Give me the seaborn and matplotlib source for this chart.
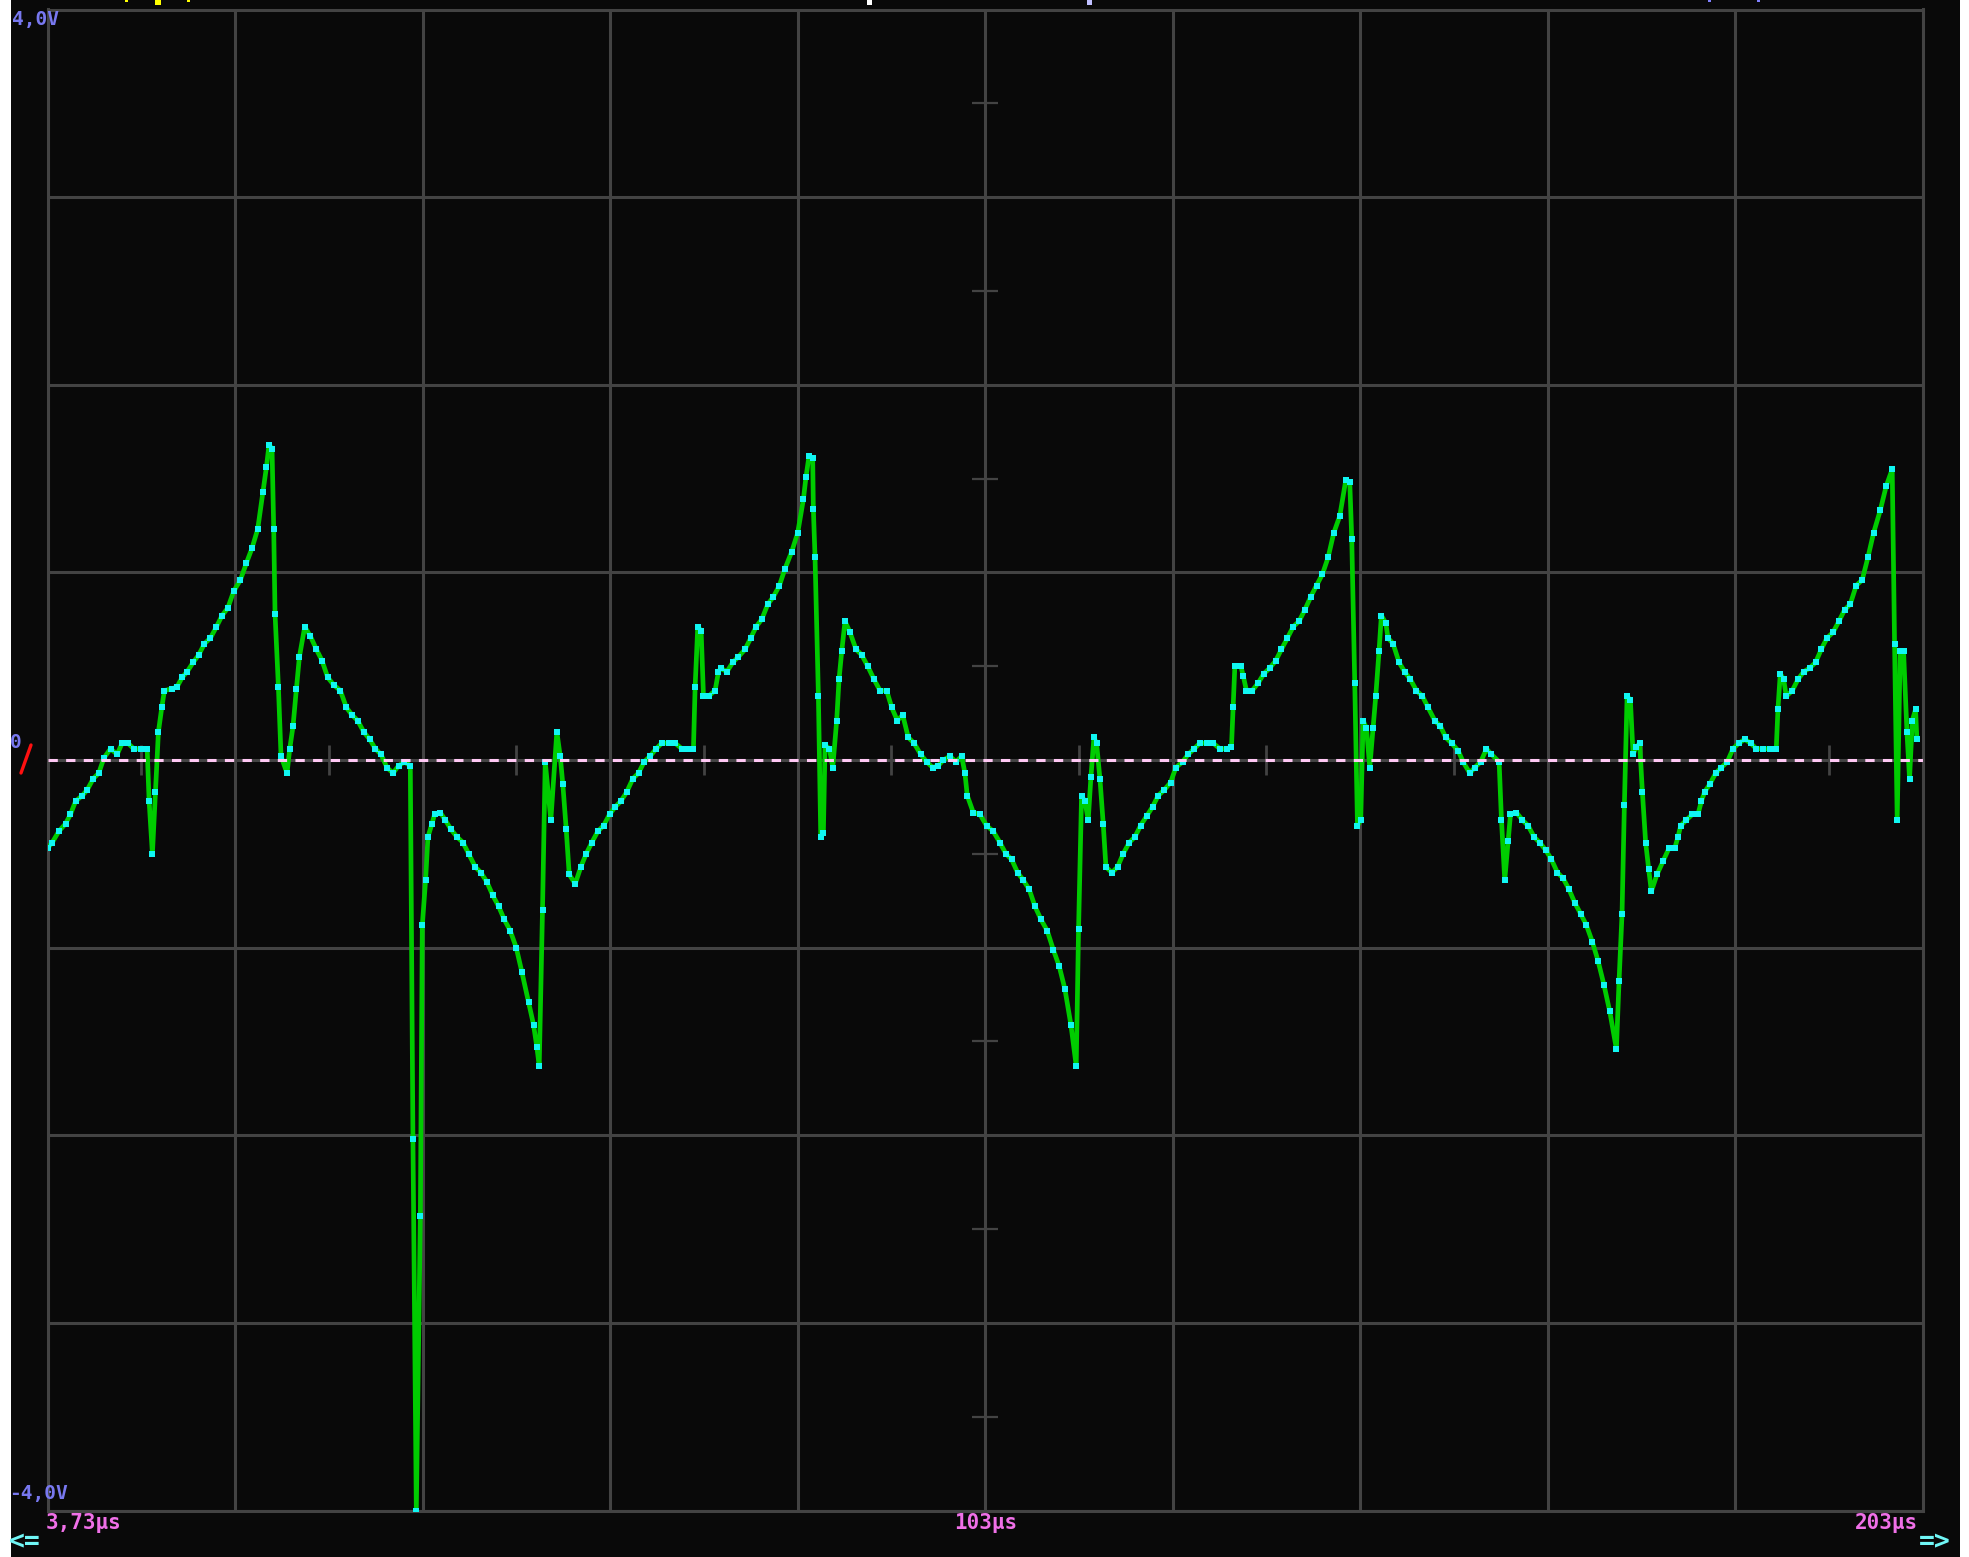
import matplotlib
matplotlib.use("Agg")
import matplotlib.pyplot as plt
from matplotlib.patches import Rectangle
from matplotlib.lines import Line2D
import numpy as np
import pandas as pd
import seaborn as sns

# ---- captured trace, channel 1 (time in microseconds, level in volts) ----
time_a = [3.73, 4.23, 4.94, 5.65, 6.18, 6.72, 7.43, 7.96, 8.60, 9.20,
          9.74, 10.45, 11.16, 11.69, 12.30, 12.93, 13.65, 14.36, 14.57, 14.92,
          15.24, 15.56, 15.92, 16.20, 17.02, 17.55, 18.09, 18.62, 19.26, 19.86,
          20.47, 21.11, 21.75, 22.35, 22.96, 23.60, 24.31, 24.95, 25.55, 26.15,
          26.72, 27.08, 27.36, 27.68, 27.86, 28.00, 28.36, 28.64, 29.28, 29.57,
          29.92, 30.28, 30.60, 31.17, 31.77, 32.41, 33.01, 33.62, 34.26, 34.97,
          35.61, 36.21, 36.82, 37.46, 38.10, 38.70, 39.30, 39.94, 40.58, 41.19,
          41.79, 42.43, 42.71, 43.07, 43.50, 43.71, 44.06, 44.31, 44.74, 45.02,
          45.63, 46.16, 46.77, 47.41, 48.05, 48.65, 49.36, 49.96, 50.60, 51.21,
          51.85, 52.45, 53.09]
volts_a = [-0.47, -0.44, -0.38, -0.34, -0.29, -0.22, -0.19, -0.16, -0.10, -0.07,
           0.01, 0.06, 0.03, 0.09, 0.09, 0.06, 0.06, 0.06, -0.22, -0.50,
           -0.17, 0.15, 0.28, 0.37, 0.38, 0.39, 0.44, 0.47, 0.52, 0.56,
           0.62, 0.65, 0.71, 0.77, 0.81, 0.90, 0.96, 1.05, 1.13, 1.23,
           1.43, 1.56, 1.68, 1.66, 1.23, 0.78, 0.39, 0.02, -0.07, 0.06,
           0.18, 0.38, 0.55, 0.71, 0.66, 0.59, 0.53, 0.44, 0.40, 0.37,
           0.28, 0.24, 0.21, 0.15, 0.11, 0.06, 0.03, -0.04, -0.07, -0.03,
           -0.01, -0.03, -2.02, -4.00, -2.43, -0.88, -0.64, -0.41, -0.34, -0.29,
           -0.28, -0.32, -0.37, -0.41, -0.44, -0.50, -0.57, -0.60, -0.65, -0.72,
           -0.78, -0.85, -0.91]

time_b = [53.73, 54.33, 55.04, 55.57, 55.93, 56.18, 56.53, 56.82, 57.42, 58.06,
          58.42, 58.70, 59.06, 59.38, 60.02, 60.62, 61.19, 61.79, 62.43, 63.04,
          63.68, 64.28, 64.88, 65.52, 66.16, 66.77, 67.37, 68.01, 68.65, 69.26,
          69.97, 70.68, 71.39, 72.10, 72.63, 72.81, 73.09, 73.45, 73.70, 74.24,
          74.94, 75.30, 75.55, 76.19, 76.82, 77.43, 78.14, 78.74, 79.31, 79.92,
          80.56, 81.16, 81.80, 82.40, 83.11, 83.75, 84.36, 84.64, 84.96, 85.35,
          85.42, 85.60, 85.96, 86.21, 86.49, 86.67, 87.13, 87.49, 87.91, 88.16,
          88.45, 88.80, 89.33, 89.97, 90.58, 91.22, 91.89, 92.53, 93.24, 93.78,
          94.38, 94.95, 95.55, 96.16, 96.87, 97.51, 98.15, 98.75, 99.29, 100.00,
          100.63]
volts_b = [-1.00, -1.13, -1.29, -1.41, -1.53, -1.63, -0.80, -0.01, -0.32, 0.15,
           0.02, -0.13, -0.37, -0.61, -0.66, -0.57, -0.50, -0.44, -0.38, -0.35,
           -0.29, -0.25, -0.22, -0.17, -0.10, -0.07, -0.01, 0.02, 0.06, 0.09,
           0.09, 0.09, 0.06, 0.06, 0.06, 0.39, 0.71, 0.69, 0.34, 0.34,
           0.37, 0.47, 0.49, 0.47, 0.52, 0.55, 0.59, 0.65, 0.71, 0.75,
           0.83, 0.87, 0.93, 1.02, 1.11, 1.21, 1.39, 1.51, 1.62, 1.61,
           1.34, 1.08, 0.34, -0.41, -0.39, 0.08, 0.06, -0.04, 0.21, 0.43,
           0.58, 0.74, 0.68, 0.59, 0.56, 0.50, 0.43, 0.37, 0.37, 0.28,
           0.21, 0.24, 0.12, 0.09, 0.03, -0.01, -0.04, -0.03, 0.00, 0.02,
           -0.01]

time_c = [101.24, 101.59, 101.84, 102.48, 103.19, 103.90, 104.61, 105.32, 105.96, 106.57,
          107.21, 107.81, 108.45, 109.06, 109.70, 110.37, 111.01, 111.65, 112.25, 112.89,
          113.46, 113.71, 114.03, 114.39, 114.74, 115.03, 115.35, 115.63, 115.99, 116.34,
          116.63, 117.26, 117.87, 118.47, 119.11, 119.72, 120.32, 120.96, 121.60, 122.20,
          122.84, 123.52, 124.09, 124.80, 125.40, 126.04, 126.65, 127.36, 128.07, 128.78,
          129.49, 130.02, 130.20, 130.38, 131.02, 131.27, 131.62, 132.23, 132.87, 133.47,
          134.11, 134.75, 135.35, 135.99, 136.60, 137.24, 137.84, 138.48, 139.09, 139.72,
          140.33, 140.93, 141.57, 142.21, 142.64, 142.85, 143.17, 143.46, 143.81, 144.06,
          144.42, 144.77, 145.12, 145.41, 145.76, 146.01, 146.48, 146.72, 147.26, 147.90,
          148.50, 149.10, 149.75, 150.39, 150.99]
volts_c = [0.02, -0.07, -0.19, -0.28, -0.29, -0.35, -0.38, -0.44, -0.50, -0.53,
           -0.60, -0.64, -0.69, -0.78, -0.85, -0.91, -1.01, -1.10, -1.22, -1.41,
           -1.63, -0.90, -0.19, -0.22, -0.32, -0.09, 0.12, 0.09, -0.10, -0.34,
           -0.57, -0.60, -0.57, -0.50, -0.44, -0.41, -0.35, -0.30, -0.25, -0.19,
           -0.16, -0.12, -0.04, -0.01, 0.03, 0.06, 0.09, 0.09, 0.09, 0.06,
           0.06, 0.07, 0.28, 0.50, 0.50, 0.45, 0.37, 0.37, 0.41, 0.46,
           0.49, 0.53, 0.59, 0.65, 0.71, 0.74, 0.80, 0.87, 0.93, 0.99,
           1.08, 1.21, 1.30, 1.49, 1.48, 1.18, 0.41, -0.35, -0.32, 0.21,
           0.17, -0.04, 0.17, 0.34, 0.58, 0.77, 0.73, 0.65, 0.62, 0.52,
           0.47, 0.43, 0.37, 0.34, 0.28]

time_d = [151.71, 152.31, 152.88, 153.49, 154.20, 154.73, 155.44, 155.97, 156.61, 157.22,
          157.75, 158.57, 158.82, 159.17, 159.53, 159.78, 160.42, 161.05, 161.66, 162.30,
          162.90, 163.54, 164.15, 164.79, 165.39, 166.03, 166.63, 167.27, 167.88, 168.52,
          169.12, 169.76, 170.37, 171.08, 171.36, 171.68, 171.93, 172.22, 172.57, 172.86,
          173.21, 173.56, 173.85, 174.20, 174.52, 174.81, 175.41, 176.05, 176.69, 177.30,
          177.65, 177.94, 178.54, 179.18, 179.78, 180.14, 180.49, 181.03, 181.67, 182.27,
          182.91, 183.51, 184.15, 184.76, 185.40, 186.00, 186.71, 187.42, 188.13, 188.31,
          188.56, 188.92, 189.20, 189.84, 190.45, 191.05, 191.69, 192.33, 192.93, 193.54,
          194.18, 194.82, 195.42, 196.02, 196.66, 197.30, 197.91, 198.51, 199.22, 199.86,
          200.50, 200.75, 201.03, 201.35, 201.71, 202.07, 202.35, 202.64, 202.99, 203.13]
volts_d = [0.21, 0.18, 0.12, 0.09, 0.05, -0.01, -0.07, -0.04, -0.01, 0.06,
           0.03, -0.01, -0.32, -0.64, -0.43, -0.29, -0.28, -0.32, -0.35, -0.41,
           -0.44, -0.48, -0.53, -0.60, -0.63, -0.69, -0.76, -0.82, -0.88, -0.97,
           -1.07, -1.20, -1.34, -1.54, -1.18, -0.82, -0.24, 0.34, 0.32, 0.03,
           0.07, 0.09, -0.17, -0.44, -0.58, -0.70, -0.61, -0.54, -0.47, -0.47,
           -0.41, -0.35, -0.32, -0.29, -0.29, -0.22, -0.17, -0.13, -0.07, -0.04,
           -0.01, 0.06, 0.09, 0.11, 0.09, 0.06, 0.06, 0.06, 0.06, 0.27,
           0.46, 0.43, 0.34, 0.37, 0.43, 0.47, 0.49, 0.52, 0.59, 0.65,
           0.68, 0.74, 0.80, 0.83, 0.93, 0.96, 1.08, 1.21, 1.33, 1.46,
           1.55, 0.62, -0.32, 0.58, 0.58, 0.15, -0.10, 0.21, 0.27, 0.11]

# ---- screen settings ----
t_start_us = 3.73
us_per_div = 20.0
n_xdiv = 10
v_per_div = 1.0
n_ydiv = 8
trigger_level_v = 0.0

y_top_label = "4,0V"
y_bottom_label = "-4,0V"
time_labels = ["3,73µs", "103µs", "203µs"]
trigger_label = "0"

SCREEN = "#090909"
GRID = "#434343"
TRACE = "#00cc00"
SAMPLE = "#10f6f2"
LEVEL = "#ffc8f4"
VOLT_TXT = "#7878f0"
TIME_TXT = "#f070e8"
ARROW_TXT = "#70f6f6"

trace = pd.DataFrame({
    "t": time_a + time_b + time_c + time_d,
    "v": volts_a + volts_b + volts_c + volts_d,
})

sns.set_style("dark")
plt.rcParams["font.family"] = ["DejaVu Sans Mono", "DejaVu Sans"]
plt.rcParams["lines.scale_dashes"] = False

W, H, DPI = 1969, 1557, 100
fig = plt.figure(figsize=(W / DPI, H / DPI), dpi=DPI, facecolor="white")


def fx(x):
    return x / W


def fy(y):
    return 1 - y / H


# dark scope screen behind everything
fig.patches.append(Rectangle((fx(11), 0), fx(1960) - fx(11), 1,
                             transform=fig.transFigure, facecolor=SCREEN,
                             edgecolor="none", zorder=-10))

ax = fig.add_axes([fx(47.5), fy(1510.5), fx(1922.5) - fx(47.5), fy(9.5) - fy(1510.5)])
ax.set_zorder(1)
ax.set_facecolor(SCREEN)

t_end_us = t_start_us + us_per_div * n_xdiv
v_half = v_per_div * n_ydiv / 2
ax.set_xlim(t_start_us, t_end_us)
ax.set_ylim(-v_half, v_half)

xgrid = t_start_us + us_per_div * np.arange(n_xdiv + 1)
ygrid = -v_half + v_per_div * np.arange(n_ydiv + 1)
ax.set_xticks(xgrid)
ax.set_yticks(ygrid)
ax.tick_params(length=0, labelbottom=False, labelleft=False)
ax.grid(True, color=GRID, linewidth=2.2, zorder=1)
ax.set_axisbelow(True)
for sp in ax.spines.values():
    sp.set_color(GRID)
    sp.set_linewidth(2.2)
    sp.set_visible(True)

# minor division marks on the centre cross
t_mid = t_start_us + us_per_div * n_xdiv / 2
half_x = t_start_us + us_per_div * (np.arange(n_xdiv) + 0.5)
half_y = -v_half + v_per_div * (np.arange(n_ydiv) + 0.5)
ax.vlines(half_x, -0.08, 0.08, color=GRID, linewidth=2.0, zorder=1.5)
ax.hlines(half_y, t_mid - 1.39, t_mid + 1.39, color=GRID, linewidth=1.6, zorder=1.5)

# trigger level line
ax.axhline(trigger_level_v, color=LEVEL, linewidth=2.2, dashes=(6.7, 6.0), zorder=4)

# the waveform with its sample points
sns.lineplot(data=trace, x="t", y="v", sort=False, estimator=None, ax=ax,
             color=TRACE, linewidth=3.4, zorder=3,
             marker="s", markersize=4.4, markerfacecolor=SAMPLE,
             markeredgewidth=0)
ax.set_xlabel("")
ax.set_ylabel("")

# screen annotations
txt = dict(fontweight="bold", va="top", ha="left")
fig.text(fx(12), fy(10), y_top_label, color=VOLT_TXT, fontsize=14, **txt)
fig.text(fx(9), fy(1484), y_bottom_label, color=VOLT_TXT, fontsize=14, **txt)
fig.text(fx(10), fy(733), trigger_label, color=VOLT_TXT, fontsize=14, **txt)
fig.text(fx(46), fy(1513), time_labels[0], color=TIME_TXT, fontsize=15, **txt)
fig.text(fx(954), fy(1513), time_labels[1], color=TIME_TXT, fontsize=15, **txt)
fig.text(fx(1855), fy(1513), time_labels[2], color=TIME_TXT, fontsize=15, **txt)
fig.text(fx(9), fy(1528), "<=", color=ARROW_TXT, fontsize=19, **txt)
fig.text(fx(1919), fy(1528), "=>", color=ARROW_TXT, fontsize=19, **txt)

# trigger marker slash
fig.lines.append(Line2D([fx(21), fx(31)], [fy(773), fy(745)],
                        transform=fig.transFigure, color="#ff1010", linewidth=2.4))

# clipped header fragments along the top edge
for x0, w, h, c in [(125, 3, 2, "#ffff00"), (155, 6, 5, "#ffff00"), (187, 3, 2, "#ffff00"),
                    (867, 5, 5, "#ffffff"), (1087, 5, 5, "#c0c0ff"),
                    (1708, 3, 2, "#8080ff"), (1757, 3, 2, "#8080ff")]:
    fig.patches.append(Rectangle((fx(x0), fy(h)), w / W, h / H,
                                 transform=fig.transFigure, facecolor=c,
                                 edgecolor="none", zorder=5))

fig.savefig("out.png", dpi=DPI, facecolor=fig.get_facecolor())
